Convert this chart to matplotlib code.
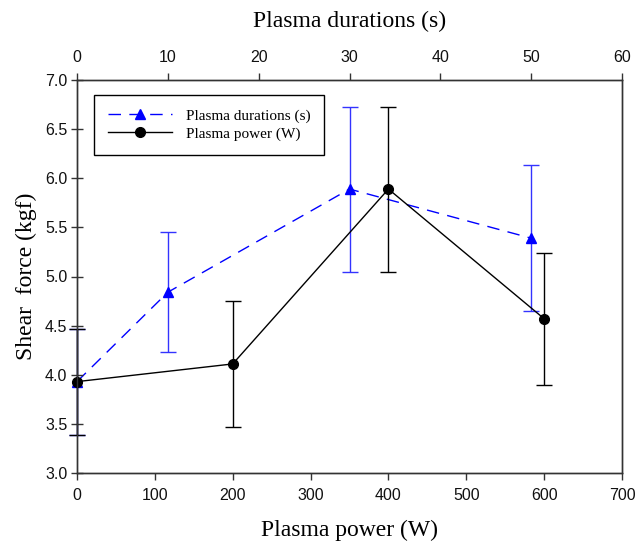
import numpy as np
import matplotlib.pyplot as plt

# data
power = [0, 200, 400, 600]
power_force = [3.93, 4.11, 5.89, 4.57]
power_err = [0.54, 0.64, 0.84, 0.67]

duration = [0, 10, 30, 50]
duration_force = [3.93, 4.84, 5.89, 5.39]
duration_err = [0.54, 0.61, 0.84, 0.74]

serif = 'Liberation Serif'
sans = 'Liberation Sans'

fig = plt.figure(figsize=(6.36, 5.46), dpi=100)
ax = fig.add_axes([77/636, 1-473/546, 545/636, 393/546])
ax2 = ax.twiny()

# blue series on the top (duration) axis
lb = ax2.errorbar(duration, duration_force, yerr=duration_err, color='#0000ff',
                  ecolor='#3333ff', elinewidth=1, capsize=6, capthick=1,
                  lw=1, dashes=(9, 6), marker='^', ms=7, clip_on=False)
lb[-1][0].set_linestyle('-')

# black series on the bottom (power) axis
lk = ax.errorbar(power, power_force, yerr=power_err, color='black', ecolor='black',
                 elinewidth=1, capsize=6, capthick=1, lw=1, marker='o', ms=7,
                 clip_on=False)

ax.set_zorder(ax2.get_zorder() + 1)
ax.patch.set_visible(False)

ax.set_xlim(0, 700)
ax.set_ylim(3.0, 7.0)
ax2.set_xlim(0, 60)
ax.set_xticks(np.arange(0, 701, 100))
ax.set_yticks(np.arange(3.0, 7.01, 0.5))
ax.set_yticklabels([f'{v:.1f}' for v in np.arange(3.0, 7.01, 0.5)])
ax2.set_xticks(np.arange(0, 61, 10))

for a in (ax, ax2):
    a.tick_params(direction='out', length=5, width=1, color='#333333',
                  labelsize=11.5, labelcolor='#111111', pad=6)
    for lab in a.get_xticklabels() + a.get_yticklabels():
        lab.set_fontfamily(sans)
    for s in a.spines.values():
        s.set_color('#333333')
        s.set_linewidth(1)
ax.tick_params(axis='y', direction='inout', length=8, pad=3)

ax.set_xlabel('Plasma power (W)', fontfamily=serif, fontsize=17, labelpad=12)
ax.set_ylabel('Shear  force (kgf)', fontfamily=serif, fontsize=17, labelpad=6)
ax2.set_xlabel('Plasma durations (s)', fontfamily=serif, fontsize=17, labelpad=16)

leg = ax.legend([lb[0], lk[0]], ['Plasma durations (s)', 'Plasma power (W)'],
                loc='upper left', bbox_to_anchor=(0.031, 0.962), borderaxespad=0,
                fancybox=False, edgecolor='black', framealpha=1,
                prop={'family': serif, 'size': 11}, handlelength=4.2,
                handletextpad=0.9, borderpad=0.9, labelspacing=0.3)
leg.get_frame().set_linewidth(1)

fig.savefig('out.png', dpi=100)
